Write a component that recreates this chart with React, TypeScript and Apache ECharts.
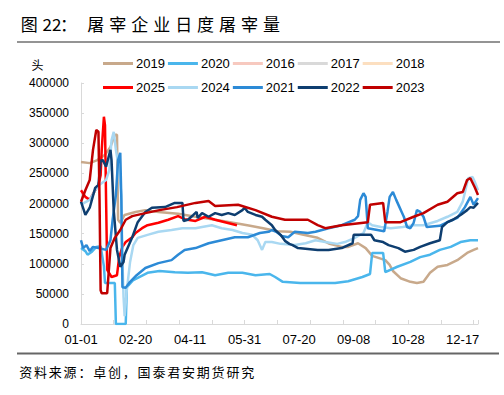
import React, { useEffect, useRef } from 'react';
import * as echarts from 'echarts';

// [day of year (0 = 01-01), slaughter volume (head)]
const d2019: number[][] = [[0,269000],[8,267000],[15,272000],[22,281000],[27,294000],[31,314000],[33,314000],[34,173000],[36,168000],[40,181000],[50,186000],[59,189000],[71,186000],[89,183000],[105,178000],[123,173000],[146,166000],[155,163000],[167,159000],[180,154000],[192,153000],[204,148000],[217,143000],[228,133000],[239,128000],[245,128000],[254,134000],[261,126000],[267,113000],[279,106000],[283,98000],[286,88000],[293,76000],[302,70000],[308,68000],[314,70000],[320,85000],[327,95000],[336,98000],[345,106000],[354,118000],[360,123000],[364,126000]];
const d2020: number[][] = [[0,126000],[4,121000],[6,115000],[10,120000],[14,128000],[18,129000],[21,96000],[22,68000],[31,68000],[32,0],[41,0],[42,61000],[48,73000],[61,85000],[72,88000],[86,86000],[98,85000],[111,86000],[123,81000],[135,85000],[148,85000],[160,81000],[173,83000],[178,78000],[185,70000],[201,68000],[233,68000],[245,71000],[258,78000],[265,83000],[267,118000],[277,118000],[279,86000],[290,95000],[302,103000],[311,111000],[320,115000],[329,123000],[339,128000],[348,136000],[357,139000],[364,139000]];
const d2016: number[][] = [];
const d2017: number[][] = [];
const d2018: number[][] = [];
const d2025: number[][] = [[0,222000],[4,211000],[8,206000],[12,219000],[16,231000],[18,247000],[19,289000],[21,344000],[22,330000],[23,206000],[24,90000],[28,78000],[33,81000],[35,111000],[38,128000],[41,136000],[47,144000],[50,151000],[56,159000],[61,164000],[71,168000],[80,173000],[89,179000],[95,174000],[105,171000],[114,178000],[123,173000],[132,169000],[143,164000]];
const d2024: number[][] = [[0,198000],[8,206000],[13,222000],[17,231000],[23,239000],[26,256000],[28,305000],[30,319000],[32,289000],[35,256000],[37,214000],[38,106000],[39,45000],[40,13000],[42,56000],[45,103000],[48,131000],[52,143000],[61,148000],[71,153000],[83,156000],[93,159000],[105,159000],[111,161000],[120,164000],[129,159000],[139,156000],[148,151000],[157,148000],[162,139000],[166,123000],[169,136000],[175,136000],[183,133000],[196,131000],[206,134000],[215,139000],[224,136000],[235,133000],[242,136000],[251,143000],[259,151000],[263,169000],[267,164000],[275,161000],[284,159000],[295,161000],[305,164000],[314,164000],[327,171000],[336,178000],[345,186000],[350,203000],[355,242000],[359,244000],[361,236000],[364,222000]];
const d2021: number[][] = [[0,139000],[2,126000],[5,131000],[8,121000],[11,128000],[16,126000],[23,123000],[27,139000],[29,173000],[32,214000],[34,272000],[36,284000],[37,206000],[38,61000],[41,60000],[45,70000],[51,81000],[59,93000],[71,101000],[83,106000],[89,115000],[95,123000],[105,126000],[117,134000],[129,139000],[141,144000],[153,144000],[164,151000],[172,153000],[175,156000],[179,153000],[184,146000],[190,144000],[196,153000],[208,151000],[215,153000],[227,159000],[239,164000],[251,173000],[254,179000],[256,206000],[259,217000],[261,211000],[263,159000],[278,154000],[281,186000],[283,211000],[286,219000],[289,206000],[292,194000],[294,186000],[296,178000],[299,161000],[302,159000],[305,168000],[308,189000],[311,186000],[314,178000],[317,161000],[329,163000],[336,169000],[345,176000],[352,194000],[357,211000],[360,198000],[364,209000]];
const d2022: number[][] = [[0,203000],[4,181000],[8,193000],[13,226000],[16,231000],[18,271000],[20,272000],[23,261000],[27,289000],[28,272000],[30,189000],[33,123000],[36,95000],[39,103000],[40,115000],[47,144000],[52,169000],[59,186000],[65,193000],[77,194000],[86,201000],[93,201000],[94,171000],[98,173000],[103,181000],[106,186000],[107,176000],[111,184000],[117,178000],[123,184000],[129,181000],[135,184000],[141,181000],[148,189000],[150,193000],[153,186000],[160,181000],[166,178000],[169,173000],[175,164000],[178,156000],[183,148000],[187,138000],[191,133000],[194,131000],[199,126000],[217,123000],[227,123000],[239,126000],[249,134000],[250,148000],[266,148000],[269,139000],[277,136000],[282,131000],[291,126000],[297,120000],[305,123000],[311,128000],[320,134000],[329,139000],[331,161000],[336,169000],[341,173000],[348,181000],[354,189000],[357,194000],[360,193000],[364,201000]];
const d2023: number[][] = [[0,203000],[4,222000],[8,239000],[11,289000],[14,322000],[16,319000],[17,206000],[18,56000],[19,51000],[24,51000],[27,126000],[31,143000],[36,156000],[41,173000],[47,179000],[59,184000],[72,189000],[88,194000],[105,201000],[117,204000],[123,196000],[144,198000],[160,189000],[175,178000],[187,173000],[208,173000],[217,164000],[224,159000],[239,164000],[263,169000],[265,198000],[277,201000],[279,169000],[293,169000],[305,178000],[314,184000],[327,198000],[336,203000],[345,217000],[350,219000],[354,239000],[357,242000],[361,227000],[364,214000]];

const legendRow1 = ['2019', '2020', '2016', '2017', '2018'];
const legendRow2 = ['2025', '2024', '2021', '2022', '2023'];
const seriesData: Record<string, number[][]> = {
  '2019': d2019, '2020': d2020, '2016': d2016, '2017': d2017, '2018': d2018,
  '2025': d2025, '2024': d2024, '2021': d2021, '2022': d2022, '2023': d2023,
};
const seriesColors: Record<string, string> = {
  '2019': '#C8A98B', '2020': '#4AB6EC', '2016': '#F7C9BF', '2017': '#D9D9D9', '2018': '#FCDFC0',
  '2025': '#FF0000', '2024': '#A9D8F2', '2021': '#2C8AD6', '2022': '#0E3E70', '2023': '#C00000',
};

const titlePrefix = ['图', '22', '：'];
const titleMain = '屠宰企业日度屠宰量';
const sourceText = '资料来源：卓创，国泰君安期货研究';
const unitText = '头';

const CJK = '"Noto Sans CJK SC", "Noto Sans", sans-serif';
const NUM = '"Liberation Sans", Arial, sans-serif';

export default function App() {
  const ref = useRef<HTMLDivElement>(null);
  useEffect(() => {
    document.body.style.margin = '0';
    const chart = echarts.init(ref.current!, undefined, { renderer: 'svg' });
    const fmt = (v: number) => {
      const dt = new Date(2023, 0, 1 + Math.round(v));
      return String(dt.getMonth() + 1).padStart(2, '0') + '-' + String(dt.getDate()).padStart(2, '0');
    };
    const txt = (text: string, x: number, y: number, size: number, family: string) => ({
      type: 'text', x, y, silent: true,
      style: { text, fill: '#000', fontSize: size, fontFamily: family, align: 'center', verticalAlign: 'middle', textAlign: 'center', textVerticalAlign: 'middle' },
    });
    const graphics: any[] = [];
    const prefixCenters = [29.2, 52, 68.5];
    titlePrefix.forEach((c, i) => graphics.push(txt(c, prefixCenters[i], 23.5, 17, CJK)));
    titleMain.split('').forEach((c, i) => graphics.push(txt(c, 95.8 + i * 21.96, 23.5, 17, CJK)));
    sourceText.split('').forEach((c, i) => graphics.push(txt(c, 25.7 + i * 14.8, 371, 13, CJK)));
    graphics.push(txt(unitText, 37.5, 64, 12, CJK));
    graphics.push({ type: 'line', silent: true, shape: { x1: 17, y1: 42, x2: 500, y2: 42 }, style: { stroke: '#707070', lineWidth: 1.6 } });
    graphics.push({ type: 'line', silent: true, shape: { x1: 17, y1: 353.5, x2: 499, y2: 353.5 }, style: { stroke: '#666666', lineWidth: 2 } });

    const order = [...legendRow1, ...legendRow2];
    const legendCommon = {
      icon: 'rect', itemWidth: 30, itemHeight: 3, itemGap: 3, padding: 0, left: 103,
      textStyle: { fontSize: 13, color: '#000', fontFamily: NUM, padding: [0, 0, 0, -2] },
      selectedMode: false,
    };
    chart.setOption({
      animation: false,
      backgroundColor: '#fff',
      grid: { left: 81, right: 26, top: 83, bottom: 71 },
      legend: [
        { ...legendCommon, top: 57, data: legendRow1 },
        { ...legendCommon, top: 81, data: legendRow2 },
      ],
      xAxis: [
        {
          type: 'value', min: 0, max: 364, interval: 50,
          axisLine: { show: true, lineStyle: { color: '#D9D9D9', width: 1 } },
          axisTick: { show: false },
          splitLine: { show: false },
          axisLabel: { formatter: fmt, fontSize: 13, color: '#000', fontFamily: NUM, margin: 9, showMaxLabel: false },
        },
        {
          type: 'value', min: 0, max: 364, interval: 30, position: 'bottom',
          axisLine: { show: false },
          axisTick: { show: true, inside: true, length: 4, lineStyle: { color: '#D9D9D9' } },
          axisLabel: { show: false },
          splitLine: { show: false },
        },
      ],
      yAxis: {
        type: 'value', min: 0, max: 400000, interval: 50000,
        axisLine: { show: true, lineStyle: { color: '#D9D9D9', width: 1 } },
        axisTick: { show: true, inside: true, length: 3, lineStyle: { color: '#D9D9D9' } },
        splitLine: { show: false },
        axisLabel: { fontSize: 12, color: '#000', fontFamily: NUM, margin: 12, formatter: (v: number) => String(v) },
      },
      graphic: graphics,
      series: order.map((name) => ({
        name, type: 'line', xAxisIndex: 0, data: seriesData[name], showSymbol: false, symbol: 'none',
        color: seriesColors[name],
        lineStyle: { width: 2.5, color: seriesColors[name] },
        itemStyle: { color: seriesColors[name] },
      })),
    });
    return () => chart.dispose();
  }, []);
  return <div ref={ref} style={{ position: 'absolute', left: 0, top: 0, width: 504, height: 395, background: '#fff' }} />;
}
